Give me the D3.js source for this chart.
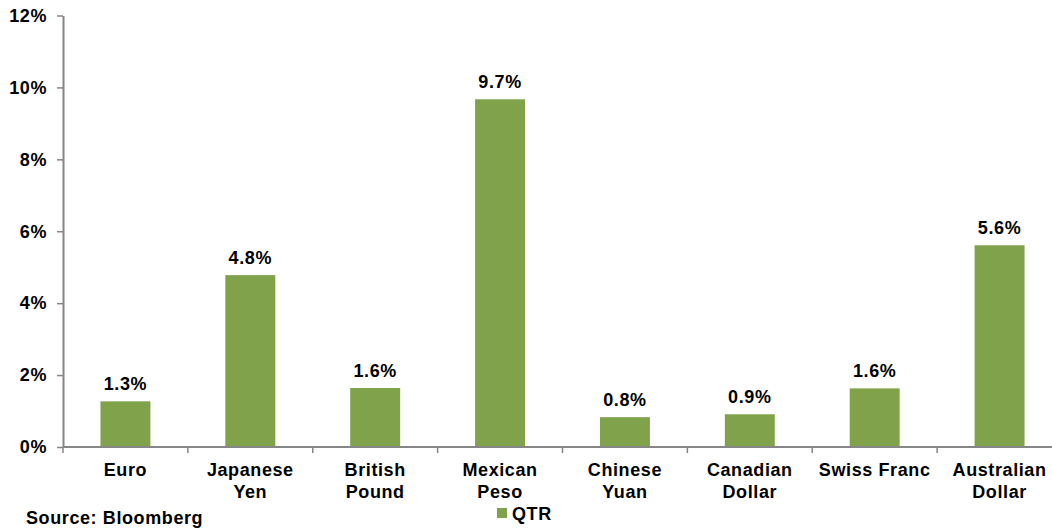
<!DOCTYPE html>
<html>
<head>
<meta charset="utf-8">
<script src="https://cdn.jsdelivr.net/npm/d3@7"></script>
<style>
  body { margin: 0; background: #fff; }
  svg text { font-family: "Liberation Sans", Arial, sans-serif; font-weight: bold; fill: #000; }
</style>
</head>
<body>
<div id="chart"></div>
<script>
// Currency returns vs USD for the quarter
const currencies = [
    ["Euro"], ["Japanese", "Yen"], ["British", "Pound"], ["Mexican", "Peso"],
    ["Chinese", "Yuan"], ["Canadian", "Dollar"], ["Swiss Franc"], ["Australian", "Dollar"]
];
const qtrValues = [1.27, 4.78, 1.64, 9.67, 0.83, 0.91, 1.63, 5.61];
const yTicks = [0, 2, 4, 6, 8, 10, 12];
const seriesName = "QTR";
const sourceText = "Source: Bloomberg";

const W = 1052, H = 529;
const barColor = "#7fa24b";
const axisColor = "#868686";

const svg = d3.select("#chart").append("svg")
    .attr("width", W)
    .attr("height", H);

const x = d3.scaleBand()
    .domain(currencies.map((d, i) => i))
    .range([63, 1062])
    .paddingInner(0.6)
    .paddingOuter(0.3);

const y = d3.scaleLinear().domain([0, 12]).range([447, 15.5]);

// y axis
const yAxis = svg.append("g")
    .attr("transform", "translate(63,0)")
    .call(d3.axisLeft(y).tickValues(yTicks).tickFormat(d => d + "%").tickSize(6).tickSizeOuter(0));
yAxis.select(".domain").attr("stroke", axisColor).attr("stroke-width", 2);
yAxis.selectAll(".tick line").attr("stroke", axisColor).attr("stroke-width", 1.5);
yAxis.selectAll(".tick text")
    .attr("x", -16)
    .style("font-size", "18px")
    .style("letter-spacing", "0.6px")
    .style("font-family", "Liberation Sans, Arial, sans-serif")
    .style("font-weight", "bold")
    .attr("fill", "#000");

// bars
svg.selectAll("rect.bar")
    .data(qtrValues)
    .enter()
    .append("rect")
    .attr("class", "bar")
    .attr("x", (d, i) => x(i))
    .attr("y", d => y(d))
    .attr("width", x.bandwidth())
    .attr("height", d => y(0) - y(d))
    .attr("fill", barColor);

// value labels
svg.selectAll("text.val")
    .data(qtrValues)
    .enter()
    .append("text")
    .attr("class", "val")
    .attr("x", (d, i) => x(i) + x.bandwidth() / 2)
    .attr("y", d => y(d) - 11)
    .attr("text-anchor", "middle")
    .style("font-size", "18px")
    .style("letter-spacing", "0.6px")
    .text(d => d.toFixed(1) + "%");

// x axis line and category separators
const step = x.step();
const x0 = 63;
svg.append("line")
    .attr("x1", x0).attr("x2", W)
    .attr("y1", y(0)).attr("y2", y(0))
    .attr("stroke", axisColor).attr("stroke-width", 2);
svg.selectAll("line.sep")
    .data(d3.range(currencies.length + 1))
    .enter()
    .append("line")
    .attr("class", "sep")
    .attr("x1", i => x0 + i * step).attr("x2", i => x0 + i * step)
    .attr("y1", y(0)).attr("y2", y(0) + 6)
    .attr("stroke", axisColor).attr("stroke-width", 1.5);

// category labels
const cat = svg.selectAll("text.cat")
    .data(currencies)
    .enter()
    .append("text")
    .attr("class", "cat")
    .attr("text-anchor", "middle")
    .attr("x", (d, i) => x(i) + x.bandwidth() / 2)
    .attr("y", 476)
    .style("font-size", "18px")
    .style("letter-spacing", "0.6px");
cat.selectAll("tspan")
    .data(d => d)
    .enter()
    .append("tspan")
    .attr("x", function () { return d3.select(this.parentNode).attr("x"); })
    .attr("dy", (d, i) => i === 0 ? 0 : 22)
    .text(d => d);

// legend
svg.append("rect")
    .attr("x", 497).attr("y", 508)
    .attr("width", 10).attr("height", 10)
    .attr("fill", barColor);
svg.append("text")
    .attr("x", 512).attr("y", 519.5)
    .style("font-size", "18px")
    .style("letter-spacing", "0.6px")
    .text(seriesName);

// source
svg.append("text")
    .attr("x", 26).attr("y", 524)
    .style("font-size", "18px")
    .style("letter-spacing", "0.6px")
    .text(sourceText);
</script>
</body>
</html>
